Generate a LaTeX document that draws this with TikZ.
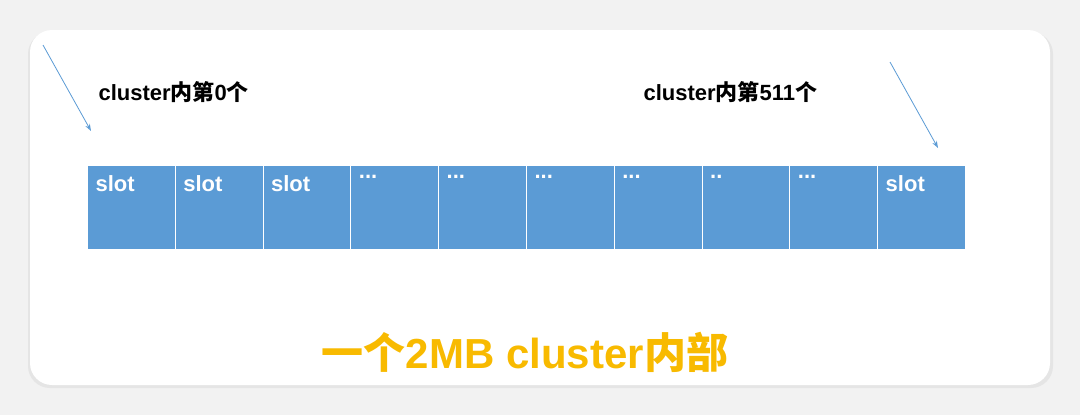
\documentclass[tikz,border=0pt]{standalone}
\usepackage{fontspec}
\usetikzlibrary{arrows.meta}
\setmainfont{Liberation Sans}
\newfontfamily\cjk{Noto Sans CJK SC}
\definecolor{cellblue}{HTML}{5B9BD5}
\definecolor{titleorange}{HTML}{F8BA00}
\definecolor{arrowblue}{HTML}{5B9BD5}
\begin{document}
\begin{tikzpicture}[x=1pt,y=-1pt,
  cell/.style={fill=cellblue,draw=white,line width=1pt,minimum width=87.8pt,minimum height=84pt,anchor=north west,inner sep=0pt},
  celltxt/.style={text=white,font=\bfseries\fontsize{22}{24}\selectfont,anchor=north west},
  lbl/.style={font=\bfseries\fontsize{22}{24}\selectfont,anchor=west},
  ptr/.style={draw=arrowblue,line width=0.8pt,-{Stealth[length=7pt,width=5pt,open]}}]
\useasboundingbox (0,0) rectangle (1080,415);
\fill[white!95!black] (0,0) rectangle (1080,415);
\fill[black!10,rounded corners=22pt] (28,32) rectangle (1053,388);
\fill[white,rounded corners=22pt] (30,30) rectangle (1050,385);
\foreach \i in {0,...,9}{
  \node[cell] (c\i) at ({87+\i*87.8},165) {};
}
\node[celltxt] (t0) at (92,172) {slot};
\node[celltxt] (t1) at (179.8,172) {slot};
\node[celltxt] (t2) at (267.6,172) {slot};
\node[celltxt] (t3) at (355.4,172) {...};
\node[celltxt] (t4) at (443.2,172) {...};
\node[celltxt] (t5) at (531,172) {...};
\node[celltxt] (t6) at (618.8,172) {...};
\node[celltxt] (t7) at (706.6,172) {..};
\node[celltxt] (t8) at (794.4,172) {...};
\node[celltxt] (t9) at (882.2,172) {slot};
\node[lbl] (l0) at (95,92) {cluster{\cjk 内第}0{\cjk 个}};
\node[lbl] (l1) at (640,92) {cluster{\cjk 内第}511{\cjk 个}};
\coordinate (a0s) at (43,45); \coordinate (a0e) at (91,131);
\coordinate (a1s) at (890,62); \coordinate (a1e) at (938,148);
\draw[ptr] (a0s) -- (a0e);
\draw[ptr] (a1s) -- (a1e);
\node[font=\bfseries\fontsize{42}{46}\selectfont,text=titleorange] (title) at (525,352) {{\cjk 一个}2MB cluster{\cjk 内部}};
\end{tikzpicture}
\end{document}
